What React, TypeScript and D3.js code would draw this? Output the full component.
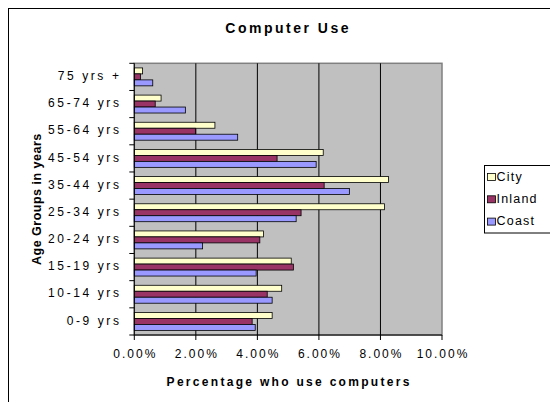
import * as d3 from "d3";

const categories = [
  "75 yrs +",
  "65-74 yrs",
  "55-64 yrs",
  "45-54 yrs",
  "35-44 yrs",
  "25-34 yrs",
  "20-24 yrs",
  "15-19 yrs",
  "10-14 yrs",
  "0-9 yrs",
];

const seriesNames = ["City", "Inland", "Coast"];
const seriesColors = ["#FFFFCC", "#993366", "#9999FF"];

const city = [0.27, 0.87, 2.62, 6.14, 8.26, 8.13, 4.2, 5.1, 4.79, 4.48];
const inland = [0.2, 0.68, 1.99, 4.64, 6.17, 5.42, 4.08, 5.17, 4.32, 3.83];
const coast = [0.6, 1.66, 3.36, 5.91, 6.99, 5.26, 2.22, 3.96, 4.48, 3.93];

const xTicks = [0, 2, 4, 6, 8, 10];

const font = "Arial, 'Liberation Sans', sans-serif";

export default function App() {
  const W = 550;
  const H = 402;
  const left = 134.3;
  const right = 442;
  const top = 63.3;
  const bottom = 335;

  const series = [city, inland, coast];

  const x = d3.scaleLinear().domain([0, 10]).range([left, right]);
  const y = d3
    .scaleBand<string>()
    .domain(categories)
    .range([top, bottom])
    .paddingInner(0.34)
    .paddingOuter(0.17);
  const inner = d3
    .scaleBand<string>()
    .domain(seriesNames)
    .range([0, y.bandwidth()]);

  const step = y.step();

  return (
    <svg
      width={W}
      height={H}
      viewBox={`0 0 ${W} ${H}`}
      style={{ position: "absolute", left: 0, top: 0 }}
    >
      <rect x={0} y={0} width={W} height={H} fill="#fff" />
      {/* Chart border */}
      <rect
        x={8.5}
        y={8.5}
        width={W + 20}
        height={H + 20}
        fill="none"
        stroke="#000"
        strokeWidth={1}
      />
      <text
        x={(left + right) / 2}
        y={33}
        textAnchor="middle"
        fontFamily={font}
        fontSize={14}
        fontWeight="bold"
        letterSpacing={2.5}
      >
        Computer Use
      </text>

      {/* Plot area */}
      <rect
        x={left}
        y={top}
        width={right - left}
        height={bottom - top}
        fill="#C0C0C0"
        stroke="#808080"
        strokeWidth={1.5}
      />
      {xTicks.slice(1, -1).map((t) => (
        <line
          key={t}
          x1={x(t)}
          x2={x(t)}
          y1={top}
          y2={bottom}
          stroke="#000"
          strokeWidth={1}
        />
      ))}

      {/* Bars */}
      {categories.map((c, i) =>
        series.map((s, j) => (
          <rect
            key={`${c}-${j}`}
            x={x(0)}
            y={(y(c) ?? 0) + (inner(seriesNames[j]) ?? 0)}
            width={x(s[i]) - x(0)}
            height={inner.bandwidth()}
            fill={seriesColors[j]}
            stroke="#000"
            strokeWidth={0.8}
          />
        ))
      )}

      {/* Y axis */}
      <line x1={left} x2={left} y1={top} y2={bottom} stroke="#000" strokeWidth={1} />
      {d3.range(categories.length + 1).map((k) => (
        <line
          key={k}
          x1={left - 5}
          x2={left}
          y1={top + k * step}
          y2={top + k * step}
          stroke="#000"
        />
      ))}
      {categories.map((c) => (
        <text
          key={c}
          x={121.5}
          y={(y(c) ?? 0) + y.bandwidth() / 2 - 1}
          dy="0.35em"
          textAnchor="end"
          fontFamily={font}
          fontSize={12}
          letterSpacing={2.6}
          style={{ whiteSpace: "pre" }}
        >
          {c}
        </text>
      ))}

      {/* X axis */}
      <line x1={left} x2={right} y1={bottom} y2={bottom} stroke="#000" strokeWidth={1} />
      {xTicks.map((t) => (
        <g key={t}>
          <line x1={x(t)} x2={x(t)} y1={bottom} y2={bottom + 5} stroke="#000" />
          <text
            x={x(t) + 1}
            y={354}
            dy="0.35em"
            textAnchor="middle"
            fontFamily={font}
            fontSize={12}
            letterSpacing={2}
          >
            {d3.format(".2f")(t)}%
          </text>
        </g>
      ))}
      <text
        x={(left + right) / 2 + 1}
        y={382}
        dy="0.35em"
        textAnchor="middle"
        fontFamily={font}
        fontSize={12}
        fontWeight="bold"
        letterSpacing={2.3}
      >
        Percentage who use computers
      </text>
      <text
        transform={`translate(37, ${(top + bottom) / 2}) rotate(-90)`}
        dy="0.35em"
        textAnchor="middle"
        fontFamily={font}
        fontSize={12.5}
        fontWeight="bold"
        letterSpacing={0.5}
      >
        Age Groups in years
      </text>

      {/* Legend */}
      <rect x={484.5} y={165.5} width={70} height={67.5} fill="#fff" stroke="#000" />
      {seriesNames.map((n, j) => (
        <g key={n} transform={`translate(487.5, ${180.5 + j * 22.3})`}>
          <rect x={0} y={-7} width={8} height={7} fill={seriesColors[j]} stroke="#000" strokeWidth={0.8} />
          <text x={9} y={0} fontFamily={font} fontSize={12.5} letterSpacing={1.2}>
            {n}
          </text>
        </g>
      ))}
    </svg>
  );
}
